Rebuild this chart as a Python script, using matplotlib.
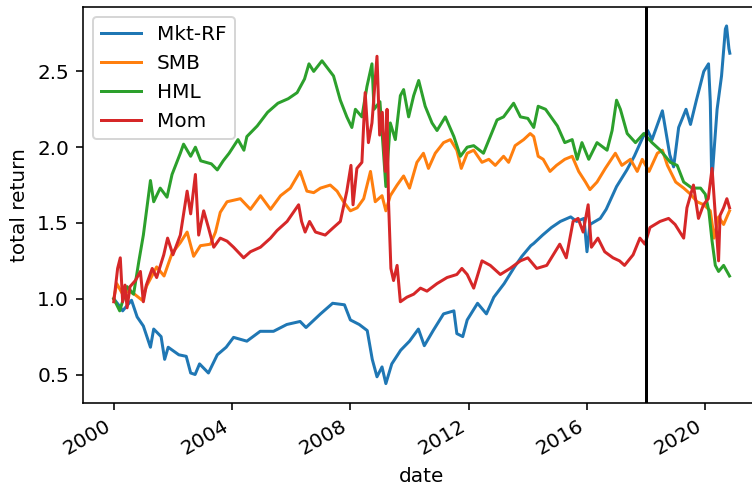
import numpy as np
import pandas as pd
import matplotlib
matplotlib.use("Agg")
import matplotlib.pyplot as plt
import matplotlib.dates as mdates

# values (decimal year, cumulative total return)
mkt_t = [2000.0, 2000.2, 2000.3, 2000.6, 2000.79, 2001.0, 2001.24, 2001.35, 2001.6, 2001.72,
         2001.84, 2002.2, 2002.45, 2002.6, 2002.75, 2002.9, 2003.2, 2003.5, 2003.8, 2004.05,
         2004.5, 2004.95, 2005.4, 2005.85, 2006.3, 2006.5, 2006.99, 2007.4, 2007.8, 2008.0,
         2008.3, 2008.57, 2008.74, 2008.9, 2009.07, 2009.2, 2009.4, 2009.7, 2010.0, 2010.3,
         2010.5, 2010.8, 2011.15, 2011.5, 2011.6, 2011.8, 2011.95, 2012.3, 2012.6, 2012.85,
         2013.2, 2013.55, 2013.8, 2014.1, 2014.2, 2014.5, 2014.8, 2015.1, 2015.45, 2015.65,
         2015.9, 2016.0, 2016.1, 2016.45, 2016.65, 2017.0, 2017.35, 2017.6, 2017.9, 2018.05,
         2018.2, 2018.55, 2018.8, 2018.93, 2019.1, 2019.35, 2019.5, 2019.7, 2019.95, 2020.11,
         2020.17, 2020.22, 2020.4, 2020.55, 2020.68, 2020.72, 2020.8, 2020.83]
mkt_v = [1.00, 0.95, 0.92, 0.99, 0.88, 0.82, 0.68, 0.80, 0.75, 0.60,
         0.68, 0.63, 0.62, 0.51, 0.50, 0.57, 0.51, 0.63, 0.68, 0.745,
         0.72, 0.785, 0.785, 0.83, 0.85, 0.81, 0.90, 0.97, 0.96, 0.86,
         0.83, 0.79, 0.60, 0.485, 0.55, 0.44, 0.57, 0.66, 0.72, 0.80,
         0.69, 0.79, 0.90, 0.92, 0.77, 0.75, 0.86, 0.97, 0.90, 1.01,
         1.10, 1.21, 1.28, 1.35, 1.365, 1.42, 1.47, 1.51, 1.54, 1.51,
         1.53, 1.31, 1.49, 1.53, 1.59, 1.74, 1.85, 1.94, 2.07, 2.11,
         2.05, 2.24, 1.95, 1.87, 2.13, 2.25, 2.15, 2.31, 2.50, 2.55,
         2.30, 1.77, 2.25, 2.47, 2.78, 2.80, 2.65, 2.62]

smb_t = [2000.0, 2000.1, 2000.3, 2000.5, 2000.7, 2000.96, 2001.1, 2001.45, 2001.7, 2001.97,
         2002.25, 2002.48, 2002.7, 2002.93, 2003.27, 2003.44, 2003.6, 2003.83, 2004.28, 2004.62,
         2004.96, 2005.3, 2005.64, 2005.97, 2006.3, 2006.53, 2006.76, 2006.99, 2007.32, 2007.55,
         2007.77, 2008.0, 2008.23, 2008.45, 2008.68, 2008.84, 2009.07, 2009.2, 2009.35, 2009.58,
         2009.8, 2010.0, 2010.25, 2010.47, 2010.64, 2010.87, 2011.15, 2011.38, 2011.6, 2011.75,
         2011.95, 2012.17, 2012.45, 2012.68, 2012.9, 2013.18, 2013.35, 2013.57, 2013.86, 2014.08,
         2014.2, 2014.35, 2014.52, 2014.75, 2014.97, 2015.25, 2015.5, 2015.72, 2015.95, 2016.1,
         2016.34, 2016.62, 2016.96, 2017.18, 2017.47, 2017.7, 2017.87, 2018.1, 2018.38, 2018.55,
         2018.72, 2019.0, 2019.27, 2019.5, 2019.72, 2019.95, 2020.17, 2020.3, 2020.45, 2020.62,
         2020.82]
smb_v = [1.00, 1.10, 1.03, 1.05, 1.03, 0.99, 1.08, 1.21, 1.15, 1.30,
         1.37, 1.44, 1.28, 1.35, 1.36, 1.44, 1.57, 1.64, 1.66, 1.59,
         1.68, 1.59, 1.68, 1.73, 1.84, 1.71, 1.70, 1.73, 1.75, 1.71,
         1.64, 1.58, 1.60, 1.66, 1.84, 1.64, 1.68, 1.58, 1.68, 1.75,
         1.81, 1.73, 1.90, 1.96, 1.86, 1.96, 2.03, 2.05, 1.98, 1.86,
         1.96, 1.98, 1.90, 1.92, 1.88, 1.94, 1.90, 2.01, 2.05, 2.09,
         2.07, 1.94, 1.92, 1.84, 1.88, 1.92, 1.94, 1.84, 1.77, 1.72,
         1.77, 1.86, 1.96, 1.88, 1.92, 1.84, 1.92, 1.84, 1.96, 1.98,
         1.88, 1.77, 1.73, 1.69, 1.64, 1.62, 1.58, 1.40, 1.54, 1.49,
         1.58]

hml_t = [2000.0, 2000.2, 2000.45, 2000.67, 2000.85, 2001.0, 2001.24, 2001.35, 2001.57, 2001.8,
         2001.97, 2002.25, 2002.36, 2002.6, 2002.76, 2002.94, 2003.3, 2003.5, 2003.7, 2003.9,
         2004.2, 2004.4, 2004.5, 2004.85, 2005.2, 2005.55, 2005.9, 2006.2, 2006.45, 2006.6,
         2006.76, 2007.04, 2007.43, 2007.66, 2007.88, 2008.05, 2008.17, 2008.39, 2008.56, 2008.73,
         2008.8, 2009.0, 2009.2, 2009.35, 2009.52, 2009.69, 2009.8, 2009.97, 2010.14, 2010.31,
         2010.53, 2010.76, 2010.93, 2011.21, 2011.5, 2011.72, 2011.95, 2012.17, 2012.5, 2012.73,
         2012.96, 2013.18, 2013.52, 2013.75, 2014.0, 2014.2, 2014.35, 2014.6, 2015.0, 2015.25,
         2015.5, 2015.67, 2015.83, 2016.06, 2016.34, 2016.68, 2016.85, 2017.0, 2017.13, 2017.36,
         2017.64, 2017.92, 2018.2, 2018.48, 2018.82, 2019.05, 2019.27, 2019.55, 2019.84, 2020.0,
         2020.12, 2020.23, 2020.34, 2020.45, 2020.62, 2020.82]
hml_v = [1.00, 0.92, 1.08, 1.03, 1.25, 1.42, 1.78, 1.64, 1.73, 1.67,
         1.82, 1.96, 2.02, 1.94, 2.00, 1.91, 1.89, 1.85, 1.91, 1.96,
         2.05, 1.98, 2.07, 2.14, 2.23, 2.29, 2.32, 2.36, 2.45, 2.55,
         2.50, 2.57, 2.47, 2.31, 2.20, 2.13, 2.25, 2.20, 2.40, 2.55,
         2.25, 2.30, 1.74, 2.16, 2.05, 2.34, 2.38, 2.20, 2.34, 2.44,
         2.27, 2.16, 2.11, 2.20, 2.07, 1.94, 2.00, 2.01, 1.96, 2.07,
         2.18, 2.20, 2.29, 2.20, 2.19, 2.13, 2.27, 2.25, 2.14, 2.03,
         2.05, 1.92, 2.03, 1.92, 2.03, 1.98, 2.11, 2.31, 2.25, 2.09,
         2.03, 2.09, 2.03, 1.98, 1.90, 1.88, 1.77, 1.73, 1.73, 1.69,
         1.58, 1.38, 1.22, 1.18, 1.22, 1.15]

mom_t = [2000.0, 2000.13, 2000.22, 2000.3, 2000.38, 2000.45, 2000.55, 2000.73, 2000.9, 2001.0,
         2001.1, 2001.3, 2001.45, 2001.69, 2001.82, 2002.0, 2002.25, 2002.48, 2002.6, 2002.76,
         2002.87, 2003.04, 2003.2, 2003.38, 2003.6, 2003.83, 2004.05, 2004.39, 2004.62, 2004.96,
         2005.3, 2005.52, 2005.86, 2006.25, 2006.35, 2006.47, 2006.62, 2006.82, 2007.15, 2007.43,
         2007.66, 2007.88, 2008.02, 2008.09, 2008.22, 2008.39, 2008.5, 2008.61, 2008.73, 2008.9,
         2008.99, 2009.08, 2009.18, 2009.24, 2009.29, 2009.37, 2009.46, 2009.58, 2009.69, 2009.91,
         2010.14, 2010.37, 2010.59, 2010.93, 2011.27, 2011.6, 2011.77, 2011.95, 2012.17, 2012.45,
         2012.73, 2013.07, 2013.4, 2013.75, 2014.0, 2014.3, 2014.64, 2014.86, 2015.08, 2015.3,
         2015.53, 2015.7, 2015.87, 2016.04, 2016.15, 2016.37, 2016.6, 2016.88, 2017.1, 2017.27,
         2017.56, 2017.79, 2017.96, 2018.13, 2018.47, 2018.76, 2018.98, 2019.27, 2019.38, 2019.6,
         2019.77, 2019.94, 2020.1, 2020.23, 2020.34, 2020.45, 2020.5, 2020.62, 2020.73, 2020.82]
mom_v = [0.98, 1.20, 1.27, 0.98, 1.09, 0.94, 1.08, 1.12, 1.18, 0.98,
         1.09, 1.20, 1.14, 1.29, 1.40, 1.29, 1.42, 1.71, 1.56, 1.82,
         1.42, 1.58, 1.47, 1.34, 1.40, 1.38, 1.34, 1.27, 1.31, 1.34,
         1.40, 1.45, 1.51, 1.62, 1.51, 1.44, 1.51, 1.44, 1.42, 1.47,
         1.51, 1.71, 1.88, 1.62, 1.86, 1.90, 2.36, 2.03, 2.16, 2.60,
         2.08, 2.23, 1.84, 2.25, 1.64, 1.20, 1.12, 1.22, 0.98, 1.01,
         1.03, 1.07, 1.05, 1.10, 1.14, 1.16, 1.20, 1.16, 1.07, 1.25,
         1.22, 1.16, 1.20, 1.25, 1.27, 1.20, 1.22, 1.29, 1.36, 1.27,
         1.51, 1.53, 1.44, 1.62, 1.34, 1.40, 1.31, 1.27, 1.25, 1.22,
         1.29, 1.40, 1.36, 1.47, 1.51, 1.53, 1.49, 1.40, 1.60, 1.75,
         1.53, 1.62, 1.66, 1.86, 1.55, 1.25, 1.55, 1.60, 1.66, 1.60]

series = [("Mkt-RF", mkt_t, mkt_v), ("SMB", smb_t, smb_v),
          ("HML", hml_t, hml_v), ("Mom", mom_t, mom_v)]
split_date = pd.Timestamp("2018-01-01")


def to_dates(years):
    years = np.asarray(years)
    return pd.Timestamp("2000-01-01") + pd.to_timedelta((years - 2000.0) * 365.25, unit="D")


fig = plt.figure(figsize=(7.52 / 1.44, 4.85 / 1.44), dpi=144)
ax = fig.add_axes([0.1104, 0.1697, 0.901, 0.8165])

for name, t, v in series:
    ax.plot(to_dates(t), v, label=name)

ax.axvline(split_date, color="black", lw=1.5)

ax.set_xlim(to_dates([1998.96])[0], to_dates([2021.87])[0])
ax.set_ylim(0.314, 2.927)
ax.xaxis.set_major_locator(mdates.YearLocator(4))
ax.xaxis.set_major_formatter(mdates.DateFormatter("%Y"))
plt.setp(ax.get_xticklabels(), rotation=30, ha="right")

ax.set_xlabel("date")
ax.set_ylabel("total return")
ax.legend(loc="upper left")

fig.savefig("out.png", dpi=144)
